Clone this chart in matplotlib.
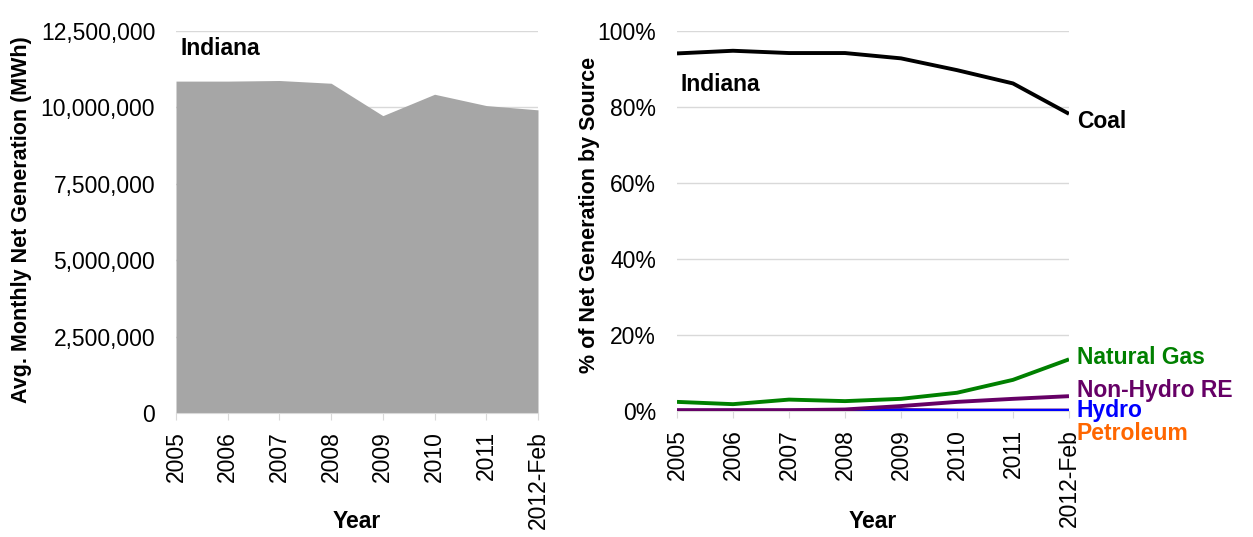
import matplotlib
matplotlib.use("Agg")
import matplotlib.pyplot as plt
from matplotlib.ticker import FuncFormatter, MultipleLocator

plt.rcParams['font.family'] = ['Liberation Sans', 'DejaVu Sans']

years = ["2005", "2006", "2007", "2008", "2009", "2010", "2011", "2012-Feb"]
generation = [10.86e6, 10.86e6, 10.88e6, 10.79e6, 9.73e6, 10.43e6, 10.06e6, 9.92e6]

coal = [94.1, 94.8, 94.2, 94.2, 92.8, 89.7, 86.2, 78.2]
natural_gas = [2.4, 1.8, 3.0, 2.6, 3.2, 4.8, 8.2, 13.6]
non_hydro_re = [0.2, 0.2, 0.2, 0.4, 1.3, 2.4, 3.2, 3.9]
hydro = [0.1, 0.1, 0.1, 0.1, 0.2, 0.1, 0.1, 0.1]
petroleum = [0.1, 0.1, 0.1, 0.2, 0.3, 0.1, 0.1, 0.1]

series = [
    ("Petroleum", petroleum, "#ff6600"),
    ("Hydro", hydro, "#0000ff"),
    ("Non-Hydro RE", non_hydro_re, "#660066"),
    ("Natural Gas", natural_gas, "#008000"),
    ("Coal", coal, "#000000"),
]

W, H = 1253, 537
fig = plt.figure(figsize=(W / 100, H / 100), dpi=100)

grid_c = "#d9d9d9"
fs = 16.5
lfs = 15.5

def px_axes(x0, x1, y0, y1):
    return fig.add_axes([x0 / W, 1 - y1 / H, (x1 - x0) / W, (y1 - y0) / H])

def style(ax):
    ax.set_xlim(0, len(years) - 1)
    ax.grid(axis="y", color=grid_c, linewidth=1, zorder=0)
    ax.set_xticks(range(len(years)))
    ax.set_xticklabels(years, rotation=90, fontsize=fs)
    ax.tick_params(axis="y", length=0, labelsize=fs, pad=15)
    ax.tick_params(axis="x", length=5, color=grid_c, pad=8)
    for s in ["top", "right", "left"]:
        ax.spines[s].set_visible(False)
    ax.spines["bottom"].set_color(grid_c)

# Left chart
ax1 = px_axes(176, 538, 31, 413)
x = list(range(len(years)))
ax1.fill_between(x, generation, 0, color="#a6a6a6", linewidth=0, zorder=2)
ax1.set_ylim(0, 12.5e6)
ax1.yaxis.set_major_locator(MultipleLocator(2.5e6))
ax1.yaxis.set_major_formatter(FuncFormatter(lambda v, p: f"{int(v):,}"))
style(ax1)
ax1.set_ylabel("Avg. Monthly Net Generation (MWh)", fontsize=lfs, fontweight="bold", va="center")
ax1.yaxis.set_label_coords(-0.428, 0.505)
ax1.set_xlabel("Year", fontsize=fs, fontweight="bold")
ax1.xaxis.set_label_coords(0.5, -0.254)
ax1.text(0.012, 0.985, "Indiana", transform=ax1.transAxes, fontsize=fs, fontweight="bold", va="top")

# Right chart
ax2 = px_axes(677, 1069, 31, 411)
for name, vals, col in series:
    ax2.plot(x, vals, color=col, linewidth=2.8, zorder=3, solid_capstyle="butt")
ax2.set_ylim(0, 100)
ax2.yaxis.set_major_locator(MultipleLocator(20))
ax2.yaxis.set_major_formatter(FuncFormatter(lambda v, p: f"{int(v)}%"))
style(ax2)
ax2.set_ylabel("% of Net Generation by Source", fontsize=lfs, fontweight="bold", va="center")
ax2.yaxis.set_label_coords(-0.222, 0.516)
ax2.set_xlabel("Year", fontsize=fs, fontweight="bold")
ax2.xaxis.set_label_coords(0.5, -0.26)
ax2.text(0.01, 0.89, "Indiana", transform=ax2.transAxes, fontsize=fs, fontweight="bold", va="top")

label_pos = {"Coal": 76.3, "Natural Gas": 14.2, "Non-Hydro RE": 5.5, "Hydro": 0.0, "Petroleum": -5.8}
for name, vals, col in series:
    ax2.text(len(years) - 1 + 0.14, label_pos[name], name, color=col, fontsize=fs,
             fontweight="bold", va="center", ha="left", clip_on=False)

fig.savefig("out.png", dpi=100)
